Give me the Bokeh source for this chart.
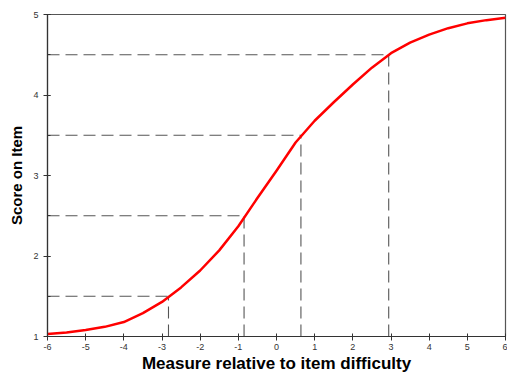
from bokeh.plotting import figure
from bokeh.models import Range1d, SingleIntervalTicker, PrintfTickFormatter
from bokeh.embed import file_html
from bokeh.resources import INLINE

# Data
measure = [-6, -5.5, -5, -4.5, -4, -3.5, -3, -2.5, -2, -1.5, -1, -0.5, 0,
           0.5, 1, 1.5, 2, 2.5, 3, 3.5, 4, 4.5, 5, 5.5, 6]
score = [1.03, 1.05, 1.08, 1.12, 1.18, 1.29, 1.43, 1.61, 1.82, 2.07, 2.37,
         2.72, 3.06, 3.41, 3.68, 3.91, 4.13, 4.34, 4.52, 4.65, 4.75, 4.83,
         4.89, 4.93, 4.96]
threshold_measure = [-2.83, -0.85, 0.64, 2.94]
threshold_score = [1.5, 2.5, 3.5, 4.5]
x_min, x_max = -6, 6
y_min, y_max = 1, 5
x_title = "Measure relative to item difficulty"
y_title = "Score on Item"

FONT = "Liberation Sans"

p = figure(width=507, height=375, output_backend="svg", toolbar_location=None,
           x_range=Range1d(x_min, x_max), y_range=Range1d(y_min, y_max),
           min_border_left=47, min_border_top=14, min_border_right=2,
           min_border_bottom=0)
p.background_fill_color = "white"
p.border_fill_color = "white"
p.outline_line_color = "#555555"
p.outline_line_width = 1.2
p.grid.visible = False

# dashed guide lines
n = len(threshold_measure)
p.segment(x0=[x_min] * n, y0=threshold_score, x1=threshold_measure, y1=threshold_score,
          line_color="#555555", line_width=1.1, line_dash="12 6")
p.segment(x0=threshold_measure, y0=[y_min] * n, x1=threshold_measure, y1=threshold_score,
          line_color="#555555", line_width=1.1, line_dash="12 6")

# curve
p.line(measure, score, line_color="#ff0000", line_width=2.5, line_join="round")

# axes
p.xaxis.ticker = SingleIntervalTicker(interval=1, num_minor_ticks=0)
p.yaxis.ticker = SingleIntervalTicker(interval=1, num_minor_ticks=2)
for ax in (p.xaxis[0], p.yaxis[0]):
    ax.formatter = PrintfTickFormatter(format="%d")
    ax.axis_line_color = "#333333"
    ax.axis_line_width = 1.2
    ax.major_tick_line_color = "#333333"
    ax.minor_tick_line_color = "#333333"
    ax.major_tick_out = 4
    ax.major_tick_in = 3
    ax.minor_tick_out = 0
    ax.minor_tick_in = 3
    ax.major_label_text_font = FONT
    ax.major_label_text_font_size = "9px"
    ax.major_label_text_color = "#333333"
    ax.axis_label_text_font = FONT
    ax.axis_label_text_font_style = "bold"
    ax.axis_label_text_color = "black"

p.yaxis.major_label_standoff = 5
p.yaxis.axis_label = y_title
p.yaxis.axis_label_text_font_size = "15px"
p.yaxis.axis_label_standoff = 5

p.xaxis.major_label_standoff = 3
p.xaxis.axis_label = x_title
p.xaxis.axis_label_text_font_size = "17px"
p.xaxis.axis_label_standoff = 1

open("out.html", "w").write(file_html(p, INLINE))
